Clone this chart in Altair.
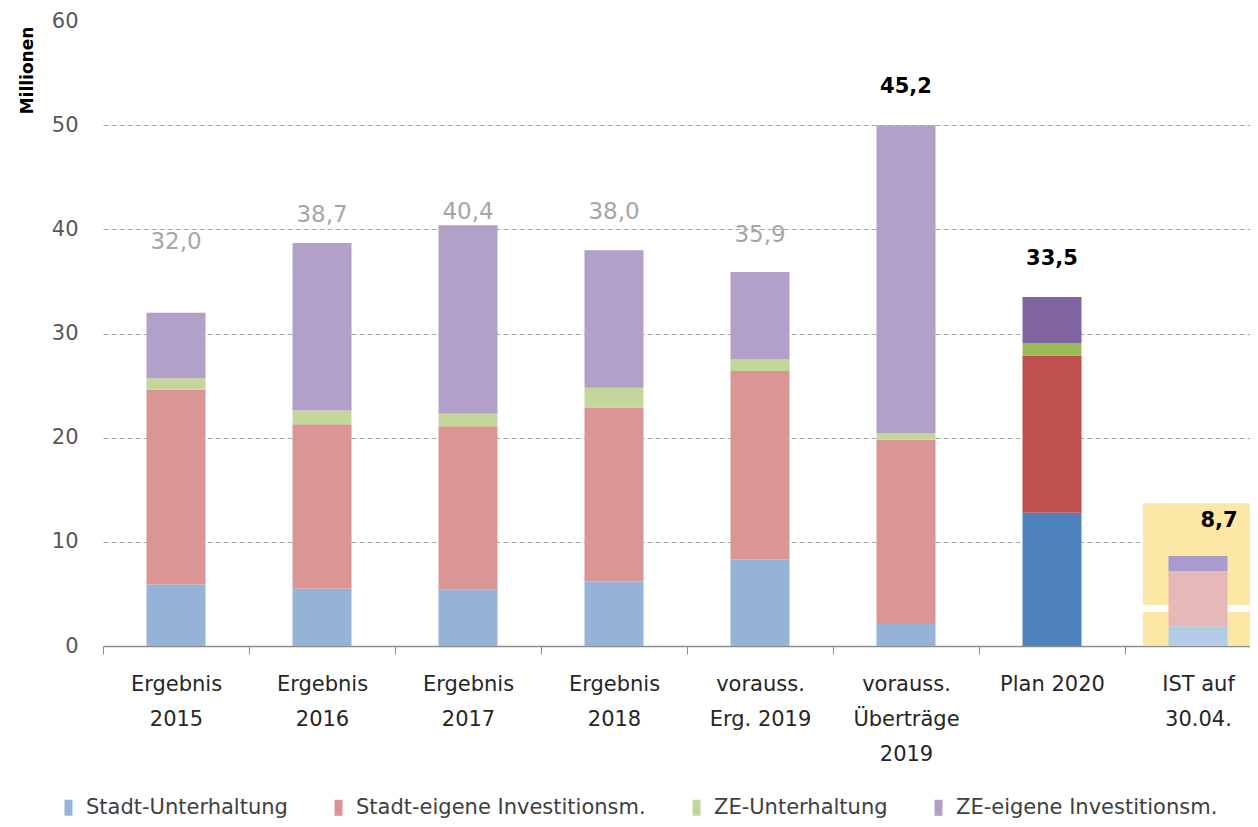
import altair as alt
import pandas as pd

categories = ["Ergebnis\n2015", "Ergebnis\n2016", "Ergebnis\n2017", "Ergebnis\n2018",
              "vorauss.\nErg. 2019", "vorauss.\nÜberträge\n2019", "Plan 2020", "IST auf\n30.04."]
series = ["Stadt-Unterhaltung", "Stadt-eigene Investitionsm.", "ZE-Unterhaltung", "ZE-eigene Investitionsm."]
stadt_unterhaltung = [5.9, 5.5, 5.4, 6.2, 8.3, 2.2, 12.8, 1.9]
stadt_invest = [18.7, 15.8, 15.7, 16.7, 18.1, 17.6, 15.1, 5.3]
ze_unterhaltung = [1.1, 1.3, 1.2, 1.9, 1.1, 0.6, 1.2, 0.0]
ze_invest = [6.3, 16.1, 18.1, 13.2, 8.4, 29.6, 4.4, 1.45]
total_labels = ["32,0", "38,7", "40,4", "38,0", "35,9", "45,2", "33,5", "8,7"]
label_y = [38.8, 41.4, 41.7, 41.7, 39.5, 53.7, 37.2, 12.0]
label_style = ["grey", "grey", "grey", "grey", "grey", "bold", "bold", "bold_right"]
variant = ["base", "base", "base", "base", "base", "base", "plan", "ist"]
highlight_low = [0.0, 3.95]
highlight_high = [3.3, 13.7]

base_colors = ["#95B3D7", "#DA9694", "#C4D79B", "#B1A0C7"]
plan_colors = ["#4F81BD", "#C0504D", "#9BBB59", "#8064A2"]
ist_colors = ["#B4CDE6", "#E6B8B7", "#D7E4BD", "#A99BCD"]

rows = []
values = [stadt_unterhaltung, stadt_invest, ze_unterhaltung, ze_invest]
for i, c in enumerate(categories):
    for j, s in enumerate(series):
        rows.append({"cat": c, "series": s, "order": j, "value": values[j][i],
                     "variant": variant[i], "key": f"{variant[i]}|{s}"})
df = pd.DataFrame(rows)

lab = pd.DataFrame({"cat": categories, "label": total_labels, "ly": label_y, "style": label_style})
hl = pd.DataFrame({"cat": [categories[7]] * 2, "lo": highlight_low, "hi": highlight_high})

W, H = 1168, 625
FONT = "DejaVu Sans"

x_enc = alt.X("cat:N", sort=categories, scale=alt.Scale(paddingInner=0, paddingOuter=0),
              axis=alt.Axis(title=None, labelAngle=0, labelAlign="center", labelFontSize=21,
                            labelColor="#262626", labelFont=FONT,
                            labelExpr="split(datum.label, '\\n')",
                            labelLineHeight=35, labelPadding=19, labelBaseline="top",
                            tickBand="extent", tickSize=8, tickColor="#8c8c8c",
                            domainColor="#8c8c8c", domainWidth=1.5, grid=False))
y_scale = alt.Scale(domain=[0, 60], nice=False)

highlight = alt.Chart(hl).mark_bar(size=110, color="#FDE49A", opacity=0.9).encode(
    x=alt.X("cat:N", sort=categories),
    y=alt.Y("lo:Q", scale=y_scale),
    y2="hi:Q",
)

bars_base = alt.Chart(df).transform_filter(alt.datum.variant == "base").mark_bar(size=59).encode(
    x=x_enc,
    y=alt.Y("sum(value):Q", stack="zero", scale=y_scale,
            axis=alt.Axis(values=[0, 10, 20, 30, 40, 50, 60], title="Millionen",
                          titleFont=FONT, titleFontSize=17, titleFontWeight="bold",
                          titleColor="#000000", titleAngle=270, titleX=-76, titleY=49,
                          titleAlign="center", titleBaseline="middle",
                          labelFontSize=21, labelColor="#595959", labelFont=FONT,
                          labelPadding=25, domain=False, ticks=False,
                          gridDash=[5, 3], gridColor="#a6a6a6", gridWidth=1.2,
                          gridOpacity=alt.condition("datum.value == 60 || datum.value == 0",
                                                    alt.value(0), alt.value(1)))),
    color=alt.Color("series:N", sort=series,
                    scale=alt.Scale(domain=series, range=base_colors),
                    legend=alt.Legend(orient="none", legendX=-45, legendY=776, direction="horizontal",
                                      title=None, labelFontSize=21, labelFont=FONT, labelColor="#404040",
                                      labelLimit=0,
                                      symbolType="M-0.5,-1L0.5,-1L0.5,1L-0.5,1Z", symbolSize=256,
                                      symbolStrokeWidth=0, columnPadding=40, labelOffset=7)),
    order=alt.Order("order:Q", sort="ascending"),
)

special_keys = [f"plan|{s}" for s in series] + [f"ist|{s}" for s in series]
bars_special = alt.Chart(df).transform_filter(alt.datum.variant != "base").mark_bar(size=59).encode(
    x=alt.X("cat:N", sort=categories),
    y=alt.Y("sum(value):Q", stack="zero", scale=y_scale),
    color=alt.Color("key:N", scale=alt.Scale(domain=special_keys, range=plan_colors + ist_colors),
                    legend=None),
    order=alt.Order("order:Q", sort="ascending"),
)

text_grey = alt.Chart(lab).transform_filter(alt.datum.style == "grey").mark_text(
    font=FONT, fontSize=23, color="#A6A6A6", baseline="middle").encode(
    x=alt.X("cat:N", sort=categories), y=alt.Y("ly:Q", scale=y_scale), text="label:N")
text_bold = alt.Chart(lab).transform_filter(alt.datum.style == "bold").mark_text(
    font=FONT, fontSize=21, fontWeight="bold", color="#000000", baseline="middle").encode(
    x=alt.X("cat:N", sort=categories), y=alt.Y("ly:Q", scale=y_scale), text="label:N")
text_right = alt.Chart(lab).transform_filter(alt.datum.style == "bold_right").mark_text(
    font=FONT, fontSize=21, fontWeight="bold", color="#000000", baseline="middle", dx=21).encode(
    x=alt.X("cat:N", sort=categories), y=alt.Y("ly:Q", scale=y_scale), text="label:N")

chart = alt.layer(highlight, bars_base, bars_special, text_grey, text_bold, text_right).resolve_scale(
    color="independent"
).properties(
    width=W, height=H,
    background="white",
    autosize=alt.AutoSizeParams(type="none"),
    padding={"left": 95, "top": 13, "right": -21, "bottom": 173},
).configure_view(strokeWidth=0, stroke="transparent").configure_axisY(
    domain=False, ticks=False
)

chart.save("out.html", embed_options={"renderer": "svg", "actions": False})
